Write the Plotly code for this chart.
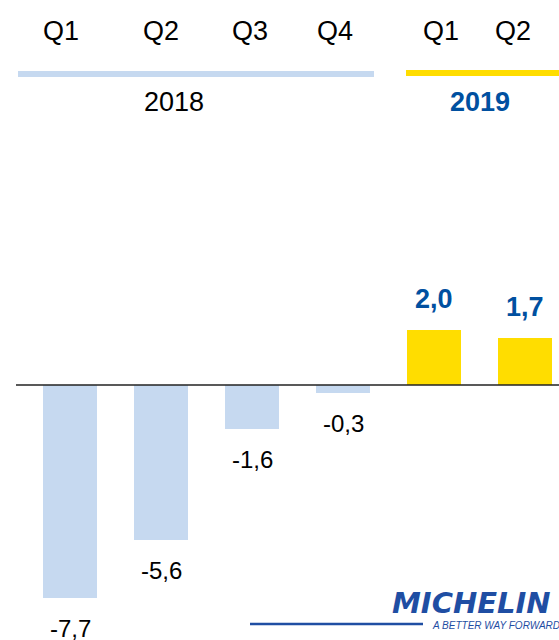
import plotly.graph_objects as go

quarters_2018 = ["Q1", "Q2", "Q3", "Q4"]
quarters_2019 = ["Q1", "Q2"]
values_2018 = [-7.7, -5.6, -1.6, -0.3]
values_2019 = [2.0, 1.7]
year_labels = ["2018", "2019"]

x18 = list(range(len(values_2018)))
x19 = [len(values_2018) + i for i in range(len(values_2019))]

LIGHT_BLUE = "#C6D9F0"
YELLOW = "#FFDD00"
DARK_BLUE = "#0050A0"
LOGO_BLUE = "#1F4EA3"
FONT = "Liberation Sans, Arial, sans-serif"

def fmt(v):
    return f"{v:.1f}".replace(".", ",")

fig = go.Figure()
fig.add_trace(go.Bar(x=x18, y=values_2018, marker_color=LIGHT_BLUE, width=0.593,
                     marker_line_width=0, showlegend=False, hoverinfo="skip"))
fig.add_trace(go.Bar(x=x19, y=values_2019, marker_color=YELLOW, width=0.593,
                     marker_line_width=0, showlegend=False, hoverinfo="skip"))

annotations = []
# value labels
for x, v in zip(x18, values_2018):
    annotations.append(dict(x=x, y=v, text=fmt(v), showarrow=False, yshift=-30,
                            font=dict(family=FONT, size=24, color="#000000")))
for x, v in zip(x19, values_2019):
    annotations.append(dict(x=x, y=v, text=f"<b>{fmt(v)}</b>", showarrow=False, yshift=31,
                            font=dict(family=FONT, size=27, color=DARK_BLUE)))

# quarter labels at top
q_shift = [-9, 0, -2, -8, 7, -12]
for i, (x, q) in enumerate(zip(x18 + x19, quarters_2018 + quarters_2019)):
    annotations.append(dict(x=x, y=1 - 31 / 640, yref="paper", text=q, showarrow=False,
                            xshift=q_shift[i], yanchor="middle",
                            font=dict(family=FONT, size=27, color="#000000")))

# year labels
annotations.append(dict(x=1.14, y=1 - 102 / 640, yref="paper", text=year_labels[0], showarrow=False,
                        yanchor="middle", font=dict(family=FONT, size=27, color="#000000")))
annotations.append(dict(x=4.5, y=1 - 102 / 640, yref="paper", text=f"<b>{year_labels[1]}</b>", showarrow=False,
                        yanchor="middle", font=dict(family=FONT, size=27, color=DARK_BLUE)))

# logo text approximation
annotations.append(dict(x=390 / 559, y=1 - 603 / 640, xref="paper", yref="paper",
                        text="<b><i>MICHELIN</i></b>", showarrow=False, xanchor="left", yanchor="middle",
                        font=dict(family="DejaVu Sans, sans-serif", size=29, color=LOGO_BLUE)))
annotations.append(dict(x=430 / 559, y=1 - 625 / 640, xref="paper", yref="paper",
                        text="<i>A BETTER WAY FORWARD</i>", showarrow=False, xanchor="left", yanchor="middle",
                        font=dict(family=FONT, size=10, color=LOGO_BLUE)))

shapes = [
    # zero line
    dict(type="line", xref="paper", yref="y", x0=16 / 559, x1=1, y0=0, y1=0,
         line=dict(color="#222222", width=1.5)),
    # year underlines
    dict(type="line", xref="paper", yref="paper", x0=18 / 559, x1=374 / 559,
         y0=1 - 74 / 640, y1=1 - 74 / 640, line=dict(color=LIGHT_BLUE, width=6)),
    dict(type="line", xref="paper", yref="paper", x0=406 / 559, x1=1,
         y0=1 - 73 / 640, y1=1 - 73 / 640, line=dict(color=YELLOW, width=6)),
    # logo underline
    dict(type="line", xref="paper", yref="paper", x0=250 / 559, x1=423 / 559,
         y0=1 - 624 / 640, y1=1 - 624 / 640, line=dict(color=LOGO_BLUE, width=2.5)),
]

px_per_unit = 27.7
zero_px = 385
fig.update_layout(
    width=559, height=640,
    margin=dict(l=0, r=0, t=0, b=0),
    paper_bgcolor="white", plot_bgcolor="white",
    xaxis=dict(range=[-70 / 91, (559 - 70) / 91], visible=False, fixedrange=True),
    yaxis=dict(range=[-(640 - zero_px) / px_per_unit, zero_px / px_per_unit], visible=False,
               zeroline=False, fixedrange=True),
    annotations=annotations,
    shapes=shapes,
    bargap=0,
)

fig.write_html("out.html", config={"displayModeBar": False},
               post_script="document.body.style.margin='0';document.body.style.overflow='hidden';")
